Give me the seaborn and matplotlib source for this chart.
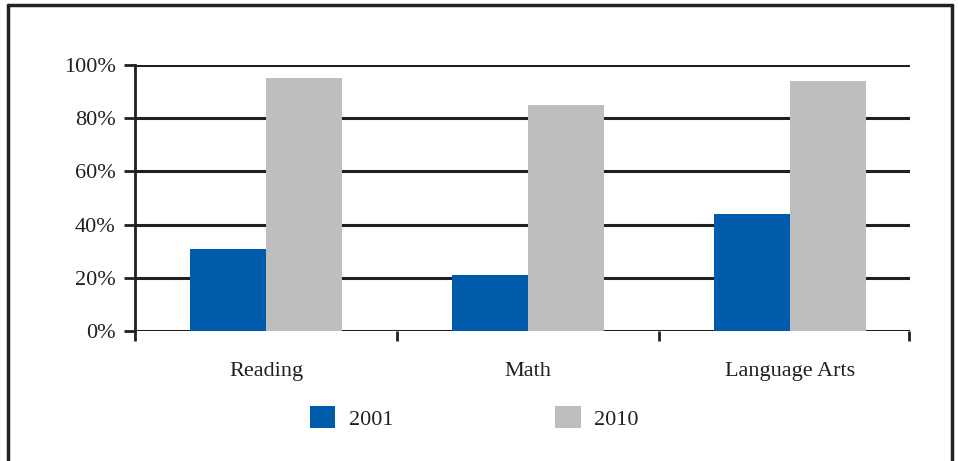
import matplotlib
matplotlib.use("Agg")
import matplotlib.pyplot as plt
import seaborn as sns
import pandas as pd
from matplotlib.lines import Line2D

categories = ["Reading", "Math", "Language Arts"]
years = ["2001", "2010"]
values_2001 = [31, 21, 44]
values_2010 = [95, 85, 94]
yticks = [0, 20, 40, 60, 80, 100]

df = pd.DataFrame({
    "subject": categories * 2,
    "year": [years[0]] * 3 + [years[1]] * 3,
    "value": values_2001 + values_2010,
})

sns.set_theme(style="white")
plt.rcParams["font.family"] = ["Liberation Serif", "DejaVu Serif"]
ink = "#231f20"

fig = plt.figure(figsize=(9.58, 4.61), dpi=100)
ax = fig.add_axes([135 / 958, 1 - 331 / 461, (910 - 135) / 958, (331 - 65) / 461])

sns.barplot(data=df, x="subject", y="value", hue="year", order=categories,
            hue_order=years, palette=["#005BAA", "#BCBEC0"], width=0.58,
            saturation=1, linewidth=0, ax=ax, legend=True, zorder=3)

xmax = len(categories) - 0.5 - 0.042
ax.set_ylim(0, 100)
ax.set_xlim(-0.5, xmax)
ax.set_yticks(yticks)
ax.set_yticklabels([f"{v}%" for v in yticks], fontsize=16, color=ink)
for v in yticks:
    ax.axhline(v, color=ink, lw=2.2, zorder=2)
ax.set_xticks([i for i in range(len(categories))])
ax.set_xticklabels(categories, fontsize=16, color=ink)
ax.tick_params(axis="x", which="major", bottom=False, length=0, pad=22)
ax.set_xticks([i - 0.5 for i in range(len(categories))] + [xmax - 0.004], minor=True)
ax.tick_params(axis="x", which="minor", bottom=True, length=7, width=2, color=ink, direction="out")
ax.tick_params(axis="y", length=8, width=2, color=ink, pad=6, left=True)
ax.set_xlabel("")
ax.set_ylabel("")
for s in ["top", "right", "bottom"]:
    ax.spines[s].set_visible(False)
ax.spines["left"].set_color(ink)
ax.spines["left"].set_linewidth(2)
ax.spines["left"].set_zorder(4)

handles, labels = ax.get_legend_handles_labels()
ax.get_legend().remove()
fig.legend(handles, labels, loc="center", bbox_to_anchor=(0.495, 1 - 418 / 461),
           ncol=2, frameon=False, fontsize=16, handlelength=1.15, handleheight=1.15,
           handletextpad=0.6, columnspacing=7.3, labelcolor=ink)

# outer frame
frame_c = "#222222"
fig.add_artist(Line2D([8 / 958, 8 / 958], [0, 1 - 5 / 461], transform=fig.transFigure, color=frame_c, lw=2.5))
fig.add_artist(Line2D([952 / 958, 952 / 958], [0, 1 - 5 / 461], transform=fig.transFigure, color=frame_c, lw=2.5))
fig.add_artist(Line2D([8 / 958, 952 / 958], [1 - 5 / 461, 1 - 5 / 461], transform=fig.transFigure, color=frame_c, lw=2.5))

fig.savefig("out.png", dpi=100)
